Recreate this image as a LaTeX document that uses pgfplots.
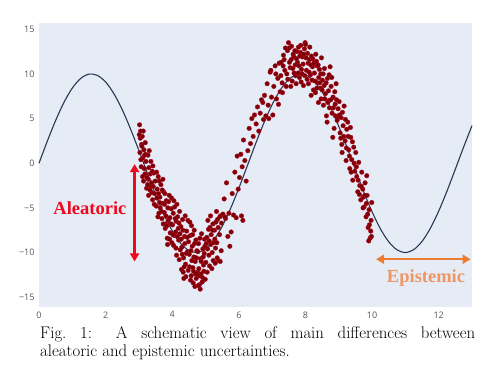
\documentclass[border=0pt]{standalone}
\usepackage{fontspec}
\usepackage{pgfplots}
\pgfplotsset{compat=1.18}
\usetikzlibrary{arrows.meta}
\newfontfamily\tickfont{Open Sans}
\newfontfamily\annfont{Liberation Serif}
\definecolor{bg}{RGB}{229,236,246}
\definecolor{tickgray}{RGB}{85,85,95}
\definecolor{curvecol}{RGB}{42,55,82}
\definecolor{dotfill}{RGB}{125,0,5}
\definecolor{dotedge}{RGB}{175,10,35}
\definecolor{alred}{RGB}{238,10,30}
\definecolor{eporange}{RGB}{237,125,49}
\definecolor{eptext}{RGB}{238,150,100}
\begin{document}
\begin{tikzpicture}
\useasboundingbox (-39pt,-61pt) rectangle (452pt,307pt);
\begin{axis}[
  scale only axis, width=433pt, height=284pt,
  xmin=0, xmax=13, ymin=-16.1, ymax=15.7,
  axis background/.style={fill=bg},
  axis line style={draw=none},
  major tick length=0pt,
  xtick={0,2,4,6,8,10,12},
  xticklabels={0,2,4,6,8,10,12},
  ytick={-15,-10,-5,0,5,10,15},
  yticklabels={−15,−10,−5,0,5,10,15},
  ticklabel style={font=\tickfont\fontsize{9}{10}\selectfont, text=tickgray},
  xticklabel style={yshift=-1pt},
  yticklabel style={xshift=-1pt},
  clip=false,
]
\addplot[only marks, mark=*, mark size=2.3pt, mark options={fill=dotfill, draw=dotedge, line width=0.35pt}] coordinates {
(3.02,4.3) (3.05,3.6) (3.04,2.8) (3.08,2.1) (3.03,1.2) (3.10,3.0) (3.12,0.6) (3.07,-0.4) (3.15,1.5) (3.18,-1.2) (3.21,0.2) (3.14,-2.0) (3.23,-2.8) (3.09,1.9) (3.19,2.3)
(3.27,0.9) (3.30,-0.5) (3.28,-1.8) (3.33,-3.0) (3.36,0.2) (3.38,-2.2) (3.41,-4.1) (3.44,-1.1) (3.47,-3.4) (3.35,-2.6) (3.49,-2.0) (3.31,1.4) (3.42,-0.3)
(3.52,-4.8) (3.55,-2.9) (3.58,-1.5) (3.60,-5.6) (3.63,-3.8) (3.66,-2.4) (3.69,-6.2) (3.71,-4.5) (3.74,-3.2) (3.57,-6.0) (3.64,-5.0) (3.72,-1.8) (3.54,-3.9)
(3.76,-5.5) (3.79,-7.3) (3.82,-4.2) (3.85,-8.4) (3.88,-6.4) (3.91,-3.6) (3.94,-7.8) (3.97,-5.1) (3.99,-8.9) (3.80,-6.8) (3.87,-5.0) (3.93,-6.1) (3.78,-3.4)
(4.01,-6.9) (4.04,-9.2) (4.07,-4.9) (4.10,-7.7) (4.13,-10.3) (4.16,-6.0) (4.19,-8.6) (4.22,-5.4) (4.24,-9.7) (4.06,-8.1) (4.12,-6.5) (4.18,-7.3) (4.03,-5.6) (4.21,-10.8)
(4.26,-7.1) (4.29,-9.4) (4.31,-6.3) (4.34,-10.6) (4.37,-8.2) (4.40,-11.3) (4.43,-7.6) (4.46,-9.9) (4.49,-8.8) (4.33,-12.2) (4.41,-12.7) (4.47,-6.4) (4.28,-11.9) (4.38,-9.0)
(4.51,-10.2) (4.54,-8.1) (4.57,-12.6) (4.60,-9.3) (4.63,-13.4) (4.66,-7.5) (4.69,-11.0) (4.72,-12.9) (4.74,-9.8) (4.55,-13.1) (4.62,-11.7) (4.68,-13.8) (4.71,-8.6) (4.58,-7.0) (4.65,-10.5)
(4.76,-12.2) (4.79,-9.0) (4.82,-13.6) (4.85,-10.7) (4.88,-7.9) (4.91,-12.8) (4.94,-11.4) (4.97,-8.5) (4.99,-13.0) (4.80,-11.8) (4.86,-12.4) (4.92,-9.6) (4.84,-14.1) (4.96,-10.1)
(5.01,-11.1) (5.04,-8.3) (5.07,-6.4) (5.10,-10.3) (5.13,-7.2) (5.16,-9.1) (5.19,-11.8) (5.22,-6.8) (5.24,-8.9) (5.06,-9.6) (5.15,-5.9) (5.20,-10.0)
(5.27,-7.5) (5.30,-9.5) (5.33,-5.4) (5.36,-6.3) (5.39,-10.9) (5.42,-8.0) (5.45,-5.9) (5.48,-6.7) (5.35,-10.6) (5.44,-11.0)
(5.52,-5.7) (5.56,-4.0) (5.60,-6.2) (5.63,-2.2) (5.67,-8.2) (5.70,-5.6) (5.73,-9.3) (5.58,-6.0)
(5.77,-7.7) (5.80,-3.4) (5.84,-5.8) (5.88,-1.0) (5.92,-6.1) (5.95,0.8) (5.98,-2.9)
(6.02,-1.6) (6.06,1.0) (6.10,-0.4) (6.14,2.6) (6.18,0.3) (6.22,-2.0) (6.08,-5.9) (6.12,-6.4)
(6.27,1.4) (6.31,3.9) (6.35,2.2) (6.39,5.0) (6.43,3.0) (6.47,5.4)
(6.52,4.4) (6.56,6.3) (6.60,3.6) (6.64,5.6) (6.68,7.1) (6.72,6.8) (6.74,4.9)
(6.77,7.6) (6.81,5.3) (6.85,8.9) (6.90,5.0) (6.94,10.2) (6.98,7.4) (6.96,10.4) (6.88,6.5)
(7.02,5.4) (7.05,8.6) (7.09,10.9) (7.13,7.2) (7.17,9.5) (7.21,11.2) (7.24,8.0) (7.11,10.0) (7.19,6.6)
(7.27,11.3) (7.30,9.0) (7.34,12.1) (7.38,10.4) (7.42,8.6) (7.46,12.6) (7.49,13.5) (7.36,11.6) (7.44,10.0) (7.31,7.9)
(7.51,12.9) (7.54,10.7) (7.57,11.6) (7.60,9.2) (7.63,12.2) (7.66,10.1) (7.69,11.0) (7.72,8.9) (7.74,12.5) (7.56,8.6) (7.65,11.9) (7.70,9.8)
(7.76,11.3) (7.79,13.0) (7.82,9.6) (7.85,12.4) (7.88,10.5) (7.91,11.9) (7.94,8.7) (7.97,12.8) (7.99,13.5) (7.81,10.9) (7.87,9.1) (7.93,11.1) (8.00,13.3)
(8.03,10.4) (8.06,12.3) (8.09,8.9) (8.12,11.6) (8.15,9.9) (8.18,12.0) (8.21,10.8) (8.24,8.2) (8.08,11.2) (8.17,7.6) (8.13,13.0) (8.22,11.7)
(8.27,10.1) (8.30,7.9) (8.33,11.4) (8.36,9.0) (8.39,6.8) (8.42,10.5) (8.45,8.4) (8.48,11.8) (8.31,12.2) (8.40,9.6) (8.47,7.2) (8.35,10.9)
(8.51,9.3) (8.54,6.5) (8.57,10.6) (8.60,7.8) (8.63,5.3) (8.66,9.5) (8.69,8.1) (8.72,6.2) (8.74,10.8) (8.56,8.7) (8.65,4.6) (8.70,7.0)
(8.77,8.6) (8.80,5.6) (8.83,7.4) (8.86,3.9) (8.89,6.6) (8.92,8.9) (8.95,4.8) (8.98,6.1) (8.82,2.9) (8.90,5.3)
(9.01,6.9) (9.04,3.4) (9.07,5.1) (9.10,1.2) (9.13,4.2) (9.16,6.4) (9.19,2.5) (9.22,0.3) (9.24,3.8) (9.09,2.1)
(9.27,4.6) (9.30,1.5) (9.33,-0.6) (9.36,2.9) (9.39,0.4) (9.42,-1.9) (9.45,1.8) (9.48,-0.9) (9.35,4.0)
(9.51,1.2) (9.54,-1.5) (9.57,-3.2) (9.60,0.1) (9.63,-2.5) (9.66,-4.1) (9.69,-1.0) (9.72,-2.9) (9.74,-3.8)
(9.76,-4.9) (9.79,-2.2) (9.82,-6.0) (9.85,-3.6) (9.88,-7.2) (9.91,-5.2) (9.94,-8.4) (9.97,-6.4) (9.99,-4.4) (9.90,-8.7) (9.84,-1.4)
(3.06,0.4) (3.11,-1.5) (3.16,-0.6) (3.20,1.0) (3.24,-1.6) (3.13,3.6) (3.01,3.2) (3.17,0.9)
(3.29,-3.6) (3.34,-1.2) (3.39,-3.3) (3.43,-2.6) (3.46,-4.6) (3.26,-2.4) (3.40,-0.9)
(3.53,-1.0) (3.59,-3.4) (3.62,-4.4) (3.67,-5.4) (3.70,-3.0) (3.73,-6.8) (3.61,-2.0)
(3.77,-4.6) (3.81,-5.9) (3.84,-7.0) (3.89,-4.3) (3.92,-8.5) (3.96,-6.8) (3.98,-3.9) (3.86,-9.1)
(4.02,-8.0) (4.05,-4.2) (4.09,-6.2) (4.11,-9.5) (4.15,-8.2) (4.20,-6.7) (4.23,-7.9) (4.14,-4.6)
(4.27,-8.5) (4.30,-10.2) (4.32,-7.5) (4.36,-11.6) (4.39,-5.9) (4.42,-10.1) (4.45,-8.3) (4.48,-12.0) (4.35,-12.9)
(4.52,-11.6) (4.56,-9.8) (4.59,-10.9) (4.61,-8.0) (4.64,-12.1) (4.67,-9.0) (4.70,-12.4) (4.73,-10.6) (4.53,-6.6)
(4.77,-9.9) (4.81,-12.6) (4.83,-8.4) (4.87,-11.0) (4.90,-13.3) (4.93,-10.5) (4.95,-12.1) (4.98,-9.3) (4.78,-13.7)
(5.02,-9.0) (5.05,-12.2) (5.09,-7.4) (5.12,-11.5) (5.17,-8.0) (5.21,-7.5) (5.23,-10.9) (5.11,-8.7)
(5.28,-8.5) (5.31,-6.6) (5.34,-8.9) (5.38,-7.2) (5.43,-6.0) (5.47,-9.8) (5.29,-11.2)
(7.26,9.8) (7.33,10.9) (7.40,12.9) (7.47,9.4) (7.52,11.3) (7.58,13.1) (7.62,10.6) (7.68,12.6) (7.73,11.7) (7.78,10.1)
(7.83,12.0) (7.86,13.2) (7.90,10.0) (7.95,12.2) (7.98,9.8) (8.02,11.8) (8.05,9.4) (8.11,10.2) (8.16,11.0) (8.20,9.3)
(8.25,11.2) (8.29,9.2) (8.34,8.4) (8.38,11.0) (8.43,9.0) (8.46,10.0) (8.50,8.2) (8.53,10.0) (8.58,7.2) (8.62,9.0)
(8.67,6.8) (8.71,9.9) (8.76,7.1) (8.79,9.6) (8.84,6.2) (8.88,8.0) (8.93,7.1) (8.97,5.2)
(9.02,5.4) (9.06,2.8) (9.11,5.7) (9.15,3.0) (9.20,4.9) (9.23,1.7) (9.28,3.0) (9.32,0.8) (9.37,-1.0) (9.41,2.4) (9.46,0.0)
(9.53,-0.4) (9.58,-1.9) (9.62,-3.5) (9.68,-2.6) (9.73,-5.0) (9.78,-3.6) (9.83,-4.5) (9.87,-5.7) (9.92,-6.9) (9.96,-7.6) (9.98,-8.2)
};
\addplot[color=curvecol, line width=1.1pt, smooth] coordinates {
(0,0) (0.25,2.474) (0.5,4.794) (0.75,6.816) (1.0,8.415) (1.25,9.490) (1.5,9.975) (1.75,9.840)
(2.0,9.093) (2.25,7.781) (2.5,5.985) (2.75,3.817) (3.0,1.411) (3.25,-1.082) (3.5,-3.508) (3.75,-5.716)
(4.0,-7.568) (4.25,-8.950) (4.5,-9.775) (4.75,-9.993) (5.0,-9.589) (5.25,-8.589) (5.5,-7.055) (5.75,-5.083)
(6.0,-2.794) (6.25,-0.332) (6.5,2.151) (6.75,4.500) (7.0,6.570) (7.25,8.231) (7.5,9.380) (7.75,9.946)
(8.0,9.894) (8.25,9.225) (8.5,7.985) (8.75,6.247) (9.0,4.121) (9.25,1.739) (9.5,-0.751) (9.75,-3.195)
(10.0,-5.440) (10.25,-7.350) (10.5,-8.796) (10.75,-9.701) (11.0,-10.000) (11.25,-9.677) (11.5,-8.755) (11.75,-7.285)
(12.0,-5.366) (12.25,-3.111) (12.5,-0.663) (12.75,1.826) (13.0,4.202)
};
\draw[alred, line width=2.2pt, {Triangle[length=8pt,width=9pt]}-{Triangle[length=8pt,width=9pt]}] (axis cs:2.87,-0.1) -- (axis cs:2.87,-11.0);
\node[text=alred, font=\annfont\bfseries\fontsize{18.5}{20}\selectfont] at (axis cs:1.53,-5.0) {Aleatoric};
\draw[eporange, line width=2.2pt, {Triangle[length=8pt,width=9pt]}-{Triangle[length=8pt,width=9pt]}] (axis cs:10.12,-10.75) -- (axis cs:12.96,-10.75);
\node[text=eptext, font=\annfont\bfseries\fontsize{18.5}{20}\selectfont] at (axis cs:11.62,-12.9) {Epistemic};
\end{axis}
\node[anchor=north west, text width=435pt, align=justify, inner sep=0pt, font=\fontsize{16.8}{18}\selectfont] at (1pt,-19.5pt) {Fig.~1: A schematic view of main differences between\linebreak aleatoric and epistemic uncertainties.};
\end{tikzpicture}
\end{document}
